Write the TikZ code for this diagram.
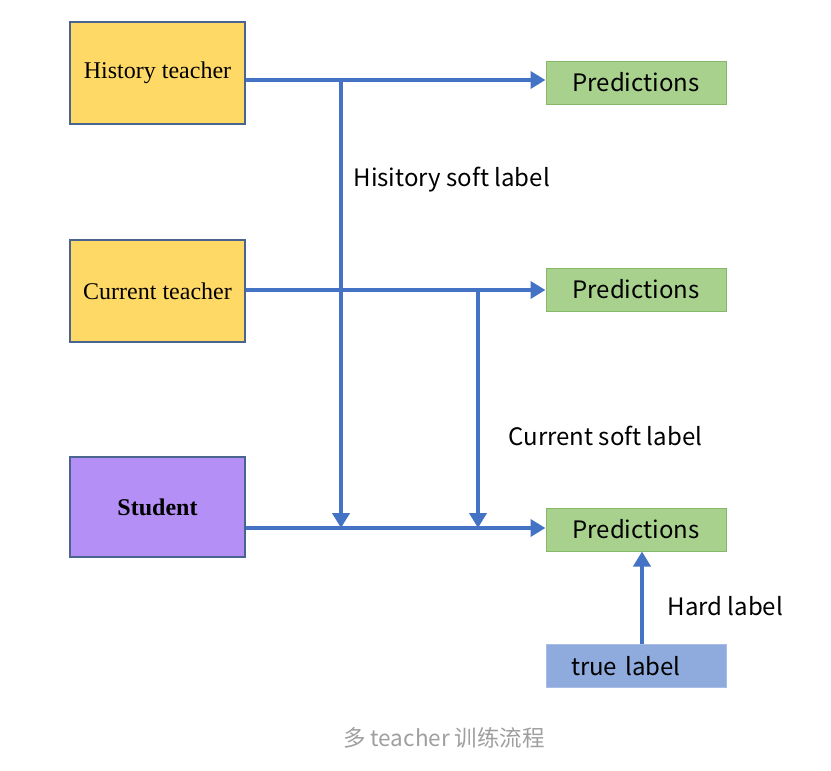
\documentclass[tikz,border=0pt]{standalone}
\usepackage{fontspec}
\setmainfont{Liberation Serif}
\newfontfamily\cjk{Noto Sans CJK SC}
\usepackage{xcolor}
\usetikzlibrary{arrows.meta,positioning}

\definecolor{teacheryellow}{HTML}{FFD966}
\definecolor{boxedge}{HTML}{4A6490}
\definecolor{studentpurple}{HTML}{B48FF5}
\definecolor{predgreen}{HTML}{A9D18E}
\definecolor{prededge}{HTML}{86B86A}
\definecolor{truelabelblue}{HTML}{8FAADC}
\definecolor{truelabeledge}{HTML}{A7BDE6}
\definecolor{flowblue}{HTML}{4472C4}

\begin{document}
\begin{tikzpicture}[
    x=1pt, y=-1pt,
    teacher/.style={rectangle, draw=boxedge, line width=2pt, fill=teacheryellow, minimum width=175pt, minimum height=102pt, font=\fontsize{24}{28}\selectfont},
    student/.style={teacher, fill=studentpurple, minimum height=100pt, font=\fontsize{24}{28}\selectfont\bfseries},
    pred/.style={rectangle, draw=prededge, line width=1pt, fill=predgreen, minimum width=180pt, minimum height=43pt, font=\cjk\fontsize{24}{28}\selectfont},
    truth/.style={pred, draw=truelabeledge, fill=truelabelblue},
    flowlabel/.style={anchor=west, font=\cjk\fontsize{24}{28}\selectfont},
    arrow/.style={line width=4pt, flowblue, -{Triangle[length=15pt,width=17pt]}}
]
\useasboundingbox (0,0) rectangle (831,771);

% Models
\node[teacher] (history_teacher) at (157.5, 73) {History teacher};
\node[teacher] (current_teacher) at (157.5, 291) {Current teacher};
\node[student] (student) at (157.5, 507) {Student};

% Outputs
\node[pred] (pred_history) at (636, 82.5) {Predictions};
\node[pred] (pred_current) at (636, 289.5) {Predictions};
\node[pred] (pred_student) at (636, 529.5) {Predictions};
\node[truth, text width=130pt, align=left] (true_label) at (636, 666) {true label};

% Forward flows
\draw[arrow] (history_teacher.east |- 0,80) -- (pred_history.west |- 0,80);
\draw[arrow] (current_teacher.east |- 0,290) -- (pred_current.west |- 0,290);
\draw[arrow] (student.east |- 0,528) -- (pred_student.west |- 0,528);

% Soft labels to the student
\coordinate (history_branch) at (341, 80);
\coordinate (current_branch) at (478, 290);
\draw[arrow] (history_branch) -- (history_branch |- 0,528);
\draw[arrow] (current_branch) -- (current_branch |- 0,528);

% Hard label
\draw[arrow] (true_label.north -| 642,0) -- (pred_student.south -| 642,0);

% Labels
\node[flowlabel] (history_soft) at (350, 180) {Hisitory soft label};
\node[flowlabel] (current_soft) at (505, 436) {Current soft label};
\node[flowlabel] (hard_label) at (664, 606) {Hard label};

% Caption
\node[font=\cjk\fontsize{22.5}{26}\selectfont, text=gray!75] (caption) at (444, 738) {多 teacher 训练流程};

\end{tikzpicture}
\end{document}
